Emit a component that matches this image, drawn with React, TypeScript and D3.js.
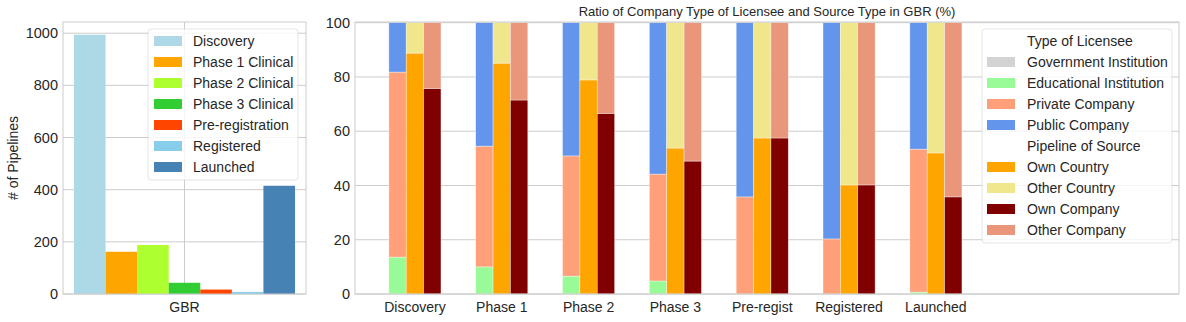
import * as d3 from 'd3';

// left panel: number of pipelines per stage
const stages = ['Discovery', 'Phase 1 Clinical', 'Phase 2 Clinical', 'Phase 3 Clinical', 'Pre-registration', 'Registered', 'Launched'];
const stageCounts = [994, 162, 188, 43, 17, 8, 415];
const stageColors = ['#add8e6', '#ffa500', '#adff2f', '#32cd32', '#ff4500', '#87ceeb', '#4682b4'];
const leftTicks = [0, 200, 400, 600, 800, 1000];

// right panel: ratios (%)
const phases = ['Discovery', 'Phase 1', 'Phase 2', 'Phase 3', 'Pre-regist', 'Registered', 'Launched'];
const govInst = [0, 0, 0, 0, 0, 0, 0];
const eduInst = [13.6, 10.0, 6.6, 4.8, 0, 0, 0.7];
const privComp = [68.2, 44.5, 44.3, 39.4, 35.8, 20.3, 52.7];
const pubComp = [18.2, 45.5, 49.1, 55.8, 64.2, 79.7, 46.6];
const ownCountry = [88.8, 85.1, 78.9, 53.8, 57.5, 40.2, 52.0];
const otherCountry = [11.2, 14.9, 21.1, 46.2, 42.5, 59.8, 48.0];
const ownCompany = [75.8, 71.5, 66.6, 49.0, 57.5, 40.2, 35.8];
const otherCompany = [24.2, 28.5, 33.4, 51.0, 42.5, 59.8, 64.2];
const rightTicks = [0, 20, 40, 60, 80, 100];

const licenseeLabels = ['Government Institution', 'Educational Institution', 'Private Company', 'Public Company'];
const licenseeColors = ['#d3d3d3', '#98fb98', '#ffa07a', '#6495ed'];
const sourceLabels = ['Own Country', 'Other Country', 'Own Company', 'Other Company'];
const sourceColors = ['#ffa500', '#f0e68c', '#800000', '#e9967a'];

const FONT = 'Arial, "Liberation Sans", sans-serif';
const TXT = '#262626';
const GRID = '#cccccc';

const TOP = 22;
const BOTTOM = 294;

function LeftPanel() {
  const x0 = 63, x1 = 306;
  const y = d3.scaleLinear().domain([0, 1043]).range([BOTTOM, TOP]);
  const xb = d3.scaleBand().domain(stages).range([74, 295]);
  const cx = (x0 + x1) / 2;
  return (
    <g>
      {leftTicks.map(t => (
        <g key={t}>
          <line x1={x0} x2={x1} y1={y(t)} y2={y(t)} stroke={GRID} />
          <text x={x0 - 5} y={y(t)} dy="0.35em" textAnchor="end" fontSize={14.5} fill={TXT}>{t}</text>
        </g>
      ))}
      <line x1={cx} x2={cx} y1={TOP} y2={BOTTOM} stroke={GRID} />
      {stages.map((s, i) => (
        <rect key={s} x={xb(s)} width={xb.bandwidth()} y={y(stageCounts[i])} height={BOTTOM - y(stageCounts[i])} fill={stageColors[i]} />
      ))}
      <rect x={x0} y={TOP} width={x1 - x0} height={BOTTOM - TOP} fill="none" stroke={GRID} />
      <text x={cx} y={BOTTOM + 18} textAnchor="middle" fontSize={14} fill={TXT}>GBR</text>
      <text transform={`translate(18,${(TOP + BOTTOM) / 2}) rotate(-90)`} textAnchor="middle" fontSize={14} fill={TXT}># of Pipelines</text>
      <rect x={148} y={29} width={150} height={151} rx={3} fill="white" fillOpacity={0.8} stroke={GRID} strokeOpacity={0.5} />
      {stages.map((s, i) => (
        <g key={s} transform={`translate(0,${41 + i * 21})`}>
          <rect x={154} y={-5} width={28} height={10} fill={stageColors[i]} />
          <text x={193} dy="0.35em" fontSize={14} fill={TXT}>{s}</text>
        </g>
      ))}
    </g>
  );
}

function RightPanel() {
  const x0 = 355, x1 = 1179;
  const x = d3.scaleLinear().domain([-0.69, 8.8]).range([x0, x1]);
  const y = d3.scaleLinear().domain([0, 100]).range([BOTTOM, TOP + 0.7]);
  const bw = x(0.2) - x(0);

  const licStack = d3.stack<number>().keys(['0', '1', '2', '3'])
    .value((i, k) => [govInst, eduInst, privComp, pubComp][+k][i])(d3.range(phases.length));
  const ctryStack = d3.stack<number>().keys(['0', '1'])
    .value((i, k) => [ownCountry, otherCountry][+k][i])(d3.range(phases.length));
  const compStack = d3.stack<number>().keys(['0', '1'])
    .value((i, k) => [ownCompany, otherCompany][+k][i])(d3.range(phases.length));

  const groups = [
    { layers: licStack, colors: licenseeColors, off: -0.2 },
    { layers: ctryStack, colors: [sourceColors[0], sourceColors[1]], off: 0 },
    { layers: compStack, colors: [sourceColors[2], sourceColors[3]], off: 0.2 },
  ];

  const legendRows: { label: string; color: string | null }[] = [
    { label: 'Type of Licensee', color: null },
    ...licenseeLabels.map((l, i) => ({ label: l, color: licenseeColors[i] })),
    { label: 'Pipeline of Source', color: null },
    ...sourceLabels.map((l, i) => ({ label: l, color: sourceColors[i] })),
  ];

  return (
    <g>
      {rightTicks.map(t => (
        <g key={t}>
          <line x1={x0} x2={x1} y1={y(t)} y2={y(t)} stroke={GRID} />
          <text x={x0 - 5} y={y(t)} dy="0.35em" textAnchor="end" fontSize={14.5} fill={TXT}>{t}</text>
        </g>
      ))}
      {phases.map((p, i) => (
        <line key={p} x1={x(i)} x2={x(i)} y1={TOP} y2={BOTTOM} stroke={GRID} />
      ))}
      {groups.map((g, gi) => g.layers.map((layer, li) => layer.map((d, i) => (
        d[1] - d[0] > 0 ? (
          <rect key={`${gi}-${li}-${i}`} x={x(i + g.off) - bw / 2} width={bw} y={y(d[1])} height={y(d[0]) - y(d[1])}
            fill={g.colors[li]} stroke="white" strokeWidth={0.6} strokeOpacity={0.6} />
        ) : null
      ))))}
      <rect x={x0} y={TOP} width={x1 - x0} height={BOTTOM - TOP} fill="none" stroke={GRID} />
      {phases.map((p, i) => (
        <text key={p} x={x(i)} y={BOTTOM + 18} textAnchor="middle" fontSize={14} fill={TXT}>{p}</text>
      ))}
      <text x={(x0 + x1) / 2} y={16} textAnchor="middle" fontSize={13} fill={TXT}>Ratio of Company Type of Licensee and Source Type in GBR (%)</text>
      <rect x={982} y={29} width={190} height={214} rx={3} fill="white" fillOpacity={0.8} stroke={GRID} strokeOpacity={0.5} />
      {legendRows.map((r, i) => (
        <g key={r.label} transform={`translate(0,${41 + i * 21})`}>
          {r.color && <rect x={987} y={-5} width={28} height={10} fill={r.color} />}
          <text x={1027} dy="0.35em" fontSize={14} fill={TXT}>{r.label}</text>
        </g>
      ))}
    </g>
  );
}

export default function App() {
  return (
    <svg width={1186} height={322} style={{ position: 'absolute', left: 0, top: 0, fontFamily: FONT }}>
      <rect width={1186} height={322} fill="white" />
      <LeftPanel />
      <RightPanel />
    </svg>
  );
}
